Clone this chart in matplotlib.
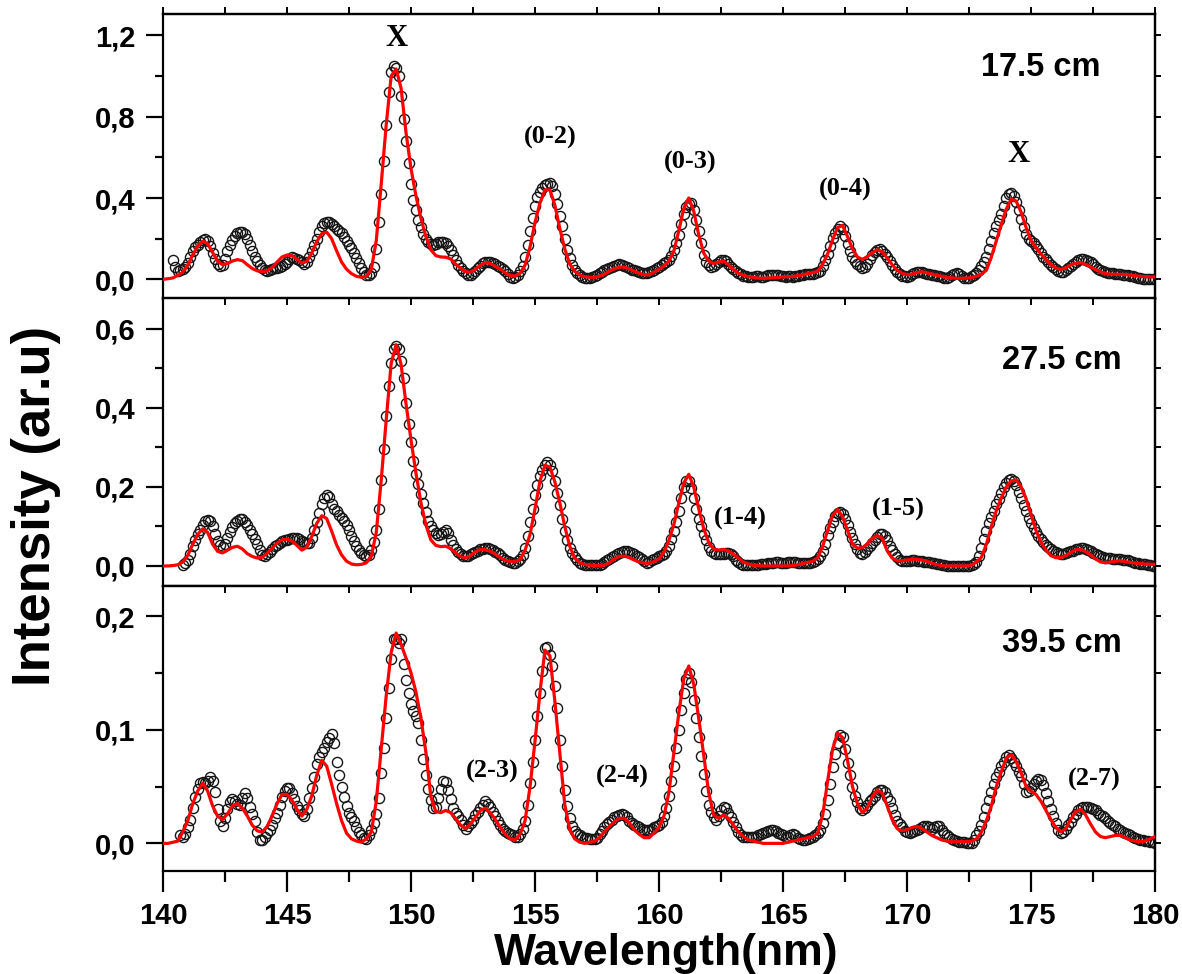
import numpy as np
import matplotlib
matplotlib.use("Agg")
import matplotlib.pyplot as plt
from matplotlib.ticker import MultipleLocator, FuncFormatter

# ---- measured spectra (open circles), 0.1 nm steps, one row per nm ----
top_data_start = 140.4
top_data = [
    0.095, 0.06, 0.04, 0.045, 0.05, 0.06,
    0.08, 0.11, 0.14, 0.16, 0.17, 0.185, 0.195, 0.2, 0.19, 0.165,
    0.13, 0.1, 0.075, 0.065, 0.07, 0.1, 0.14, 0.17, 0.195, 0.215,
    0.228, 0.235, 0.235, 0.225, 0.2, 0.17, 0.14, 0.11, 0.09, 0.07,
    0.055, 0.045, 0.04, 0.045, 0.05, 0.055, 0.055, 0.06, 0.065, 0.075,
    0.085, 0.1, 0.11, 0.105, 0.1, 0.095, 0.085, 0.075, 0.085, 0.11,
    0.14, 0.17, 0.2, 0.235, 0.26, 0.275, 0.283, 0.28, 0.27, 0.262,
    0.25, 0.24, 0.228, 0.21, 0.19, 0.17, 0.152, 0.13, 0.105, 0.08,
    0.055, 0.035, 0.022, 0.02, 0.03, 0.06, 0.15, 0.28, 0.42, 0.58,
    0.76, 0.92, 1.02, 1.05, 1.04, 1.0, 0.9, 0.79, 0.68, 0.57,
    0.47, 0.39, 0.34, 0.29, 0.255, 0.225, 0.2, 0.185, 0.175, 0.17,
    0.175, 0.183, 0.185, 0.182, 0.177, 0.165, 0.145, 0.12, 0.095, 0.07,
    0.055, 0.042, 0.03, 0.022, 0.022, 0.03, 0.042, 0.055, 0.068, 0.078,
    0.085, 0.087, 0.085, 0.08, 0.075, 0.068, 0.06, 0.052, 0.04, 0.025,
    0.012, 0.006, 0.01, 0.02, 0.04, 0.065, 0.11, 0.17, 0.24, 0.3,
    0.36, 0.405, 0.43, 0.45, 0.462, 0.468, 0.472, 0.46, 0.42, 0.37,
    0.31, 0.26, 0.2, 0.145, 0.105, 0.07, 0.045, 0.032, 0.02, 0.012,
    0.008, 0.006, 0.006, 0.01, 0.016, 0.022, 0.03, 0.038, 0.045, 0.052,
    0.058, 0.062, 0.068, 0.072, 0.075, 0.072, 0.066, 0.06, 0.054, 0.048,
    0.044, 0.04, 0.036, 0.033, 0.03, 0.03, 0.034, 0.04, 0.047, 0.054,
    0.062, 0.07, 0.078, 0.085, 0.095, 0.115, 0.145, 0.18, 0.22, 0.27,
    0.32, 0.358, 0.372, 0.374, 0.34, 0.29, 0.24, 0.18, 0.12, 0.085,
    0.07, 0.062, 0.065, 0.075, 0.085, 0.093, 0.095, 0.088, 0.075, 0.062,
    0.052, 0.042, 0.032, 0.024, 0.018, 0.014, 0.013, 0.012, 0.012, 0.014,
    0.015, 0.013, 0.013, 0.016, 0.02, 0.022, 0.021, 0.021, 0.019, 0.016,
    0.014, 0.013, 0.014, 0.016, 0.013, 0.015, 0.018, 0.02, 0.022, 0.024,
    0.025, 0.026, 0.028, 0.03, 0.035, 0.042, 0.065, 0.095, 0.125, 0.165,
    0.205, 0.23, 0.25, 0.26, 0.248, 0.215, 0.175, 0.14, 0.11, 0.088,
    0.075, 0.065, 0.058, 0.06, 0.075, 0.1, 0.122, 0.135, 0.145, 0.148,
    0.14, 0.125, 0.108, 0.09, 0.07, 0.05, 0.036, 0.025, 0.018, 0.014,
    0.013, 0.018, 0.025, 0.032, 0.036, 0.038, 0.036, 0.032, 0.028, 0.024,
    0.022, 0.02, 0.018, 0.014, 0.01, 0.008, 0.008, 0.012, 0.02, 0.027,
    0.03, 0.025, 0.015, 0.008, 0.005, 0.008, 0.015, 0.023, 0.03, 0.045,
    0.065, 0.085, 0.11, 0.15, 0.19, 0.228, 0.26, 0.29, 0.32, 0.36,
    0.4, 0.418, 0.426, 0.41, 0.38, 0.34, 0.295, 0.258, 0.225, 0.2,
    0.188, 0.178, 0.165, 0.148, 0.13, 0.112, 0.098, 0.085, 0.072, 0.06,
    0.05, 0.042, 0.037, 0.038, 0.045, 0.055, 0.065, 0.075, 0.085, 0.095,
    0.1, 0.1, 0.097, 0.092, 0.086, 0.075, 0.063, 0.052, 0.045, 0.04,
    0.036, 0.033, 0.03, 0.03, 0.028, 0.026, 0.024, 0.022, 0.021, 0.02,
    0.018, 0.015, 0.012, 0.008, 0.005, 0.004, 0.003, 0.002, 0.001, 0.0,
    0.0,
]

mid_data_start = 140.8
mid_data = [
    0.003, 0.008,
    0.015, 0.03, 0.05, 0.066, 0.08, 0.091, 0.103, 0.113, 0.117, 0.113,
    0.1, 0.08, 0.062, 0.052, 0.049, 0.055, 0.07, 0.085, 0.098, 0.108,
    0.114, 0.118, 0.118, 0.112, 0.103, 0.092, 0.08, 0.067, 0.055, 0.04,
    0.027, 0.025, 0.03, 0.036, 0.043, 0.05, 0.054, 0.058, 0.062, 0.065,
    0.066, 0.068, 0.07, 0.071, 0.07, 0.067, 0.063, 0.06, 0.057, 0.058,
    0.07, 0.09, 0.112, 0.135, 0.158, 0.172, 0.18, 0.175, 0.158, 0.145,
    0.138, 0.13, 0.122, 0.113, 0.103, 0.09, 0.075, 0.062, 0.05, 0.041,
    0.033, 0.027, 0.024, 0.028, 0.04, 0.06, 0.09, 0.145, 0.218, 0.295,
    0.38, 0.455, 0.513, 0.548, 0.558, 0.548, 0.518, 0.475, 0.412, 0.36,
    0.315, 0.265, 0.232, 0.207, 0.183, 0.16, 0.137, 0.115, 0.1, 0.09,
    0.083, 0.079, 0.08, 0.086, 0.09, 0.083, 0.066, 0.054, 0.043, 0.035,
    0.03, 0.026, 0.024, 0.026, 0.03, 0.033, 0.036, 0.039, 0.042, 0.044,
    0.045, 0.045, 0.043, 0.04, 0.036, 0.032, 0.027, 0.021, 0.016, 0.012,
    0.009, 0.007, 0.008, 0.012, 0.018, 0.028, 0.045, 0.075, 0.11, 0.145,
    0.18, 0.205, 0.228, 0.244, 0.256, 0.263, 0.256, 0.24, 0.215, 0.185,
    0.155, 0.12, 0.088, 0.065, 0.045, 0.032, 0.022, 0.014, 0.008, 0.004,
    0.003, 0.003, 0.003, 0.003, 0.003, 0.002, 0.003, 0.006, 0.01, 0.014,
    0.018, 0.022, 0.026, 0.029, 0.032, 0.035, 0.037, 0.038, 0.036, 0.032,
    0.029, 0.026, 0.022, 0.017, 0.012, 0.008, 0.01, 0.014, 0.018, 0.021,
    0.024, 0.027, 0.03, 0.038, 0.05, 0.067, 0.088, 0.112, 0.14, 0.172,
    0.2, 0.214, 0.215, 0.198, 0.172, 0.145, 0.12, 0.1, 0.082, 0.065,
    0.048, 0.038, 0.033, 0.031, 0.03, 0.03, 0.031, 0.032, 0.032, 0.03,
    0.024, 0.016, 0.009, 0.005, 0.003, 0.002, 0.002, 0.002, 0.002, 0.002,
    0.003, 0.004, 0.005, 0.006, 0.007, 0.008, 0.008, 0.009, 0.009, 0.008,
    0.008, 0.008, 0.009, 0.01, 0.01, 0.009, 0.008, 0.008, 0.008, 0.008,
    0.008, 0.008, 0.009, 0.012, 0.018, 0.026, 0.038, 0.055, 0.078, 0.095,
    0.112, 0.126, 0.135, 0.136, 0.131, 0.12, 0.104, 0.087, 0.071, 0.056,
    0.043, 0.034, 0.031, 0.035, 0.043, 0.051, 0.058, 0.066, 0.074, 0.08,
    0.082, 0.076, 0.065, 0.05, 0.04, 0.03, 0.022, 0.016, 0.013, 0.012,
    0.012, 0.013, 0.014, 0.014, 0.013, 0.013, 0.012, 0.011, 0.01, 0.009,
    0.008, 0.007, 0.006, 0.005, 0.003, 0.002, 0.001, 0.0, 0.0, 0.0,
    0.0, 0.0, 0.0, 0.0, 0.0, 0.001, 0.002, 0.004, 0.01, 0.025,
    0.045, 0.068, 0.089, 0.108, 0.125, 0.14, 0.156, 0.17, 0.185, 0.2,
    0.211, 0.217, 0.219, 0.216, 0.205, 0.188, 0.172, 0.155, 0.138, 0.122,
    0.108, 0.096, 0.085, 0.076, 0.068, 0.06, 0.054, 0.048, 0.043, 0.039,
    0.035, 0.032, 0.03, 0.031, 0.033, 0.035, 0.037, 0.039, 0.042, 0.044,
    0.046, 0.046, 0.043, 0.04, 0.037, 0.034, 0.031, 0.028, 0.025, 0.022,
    0.021, 0.02, 0.019, 0.018, 0.018, 0.017, 0.017, 0.016, 0.015, 0.014,
    0.012, 0.01, 0.008, 0.007, 0.006, 0.005, 0.004, 0.003, 0.002, 0.001,
    0.0,
]

bot_data_start = 140.7
bot_data = [
    0.007, 0.006, 0.008,
    0.014, 0.021, 0.031, 0.041, 0.048, 0.053, 0.054, 0.053, 0.055, 0.058,
    0.055, 0.045, 0.03, 0.02, 0.015, 0.022, 0.03, 0.036, 0.039, 0.037,
    0.035, 0.034, 0.04, 0.044, 0.04, 0.032, 0.026, 0.02, 0.01, 0.003,
    0.003, 0.006, 0.009, 0.012, 0.016, 0.022, 0.027, 0.034, 0.041, 0.046,
    0.049, 0.049, 0.044, 0.039, 0.033, 0.029, 0.026, 0.024, 0.03, 0.04,
    0.049, 0.058, 0.07, 0.076, 0.08, 0.084, 0.089, 0.093, 0.096, 0.088,
    0.072, 0.06, 0.05, 0.041, 0.033, 0.027, 0.023, 0.02, 0.014, 0.01,
    0.007, 0.005, 0.004, 0.007, 0.012, 0.018, 0.026, 0.04, 0.062, 0.084,
    0.11, 0.137, 0.162, 0.18, 0.18, 0.176, 0.18, 0.158, 0.144, 0.132,
    0.123, 0.116, 0.112, 0.106, 0.091, 0.074, 0.06, 0.048, 0.038, 0.031,
    0.032, 0.04, 0.048, 0.055, 0.054, 0.047, 0.039, 0.031, 0.027, 0.024,
    0.021, 0.016, 0.013, 0.015, 0.018, 0.021, 0.025, 0.028, 0.031, 0.034,
    0.037, 0.035, 0.032, 0.028, 0.024, 0.02, 0.016, 0.013, 0.011, 0.009,
    0.008, 0.007, 0.006, 0.006, 0.008, 0.013, 0.02, 0.034, 0.053, 0.072,
    0.091, 0.112, 0.132, 0.152, 0.172, 0.173, 0.166, 0.156, 0.138, 0.119,
    0.091, 0.068, 0.047, 0.033, 0.022, 0.015, 0.011, 0.008, 0.007, 0.006,
    0.005, 0.005, 0.004, 0.004, 0.004, 0.005, 0.008, 0.011, 0.014, 0.017,
    0.019, 0.021, 0.023, 0.024, 0.025, 0.026, 0.025, 0.023, 0.02, 0.018,
    0.016, 0.015, 0.014, 0.013, 0.012, 0.012, 0.012, 0.013, 0.014, 0.015,
    0.016, 0.019, 0.024, 0.031, 0.042, 0.055, 0.068, 0.084, 0.1, 0.117,
    0.132, 0.145, 0.15, 0.142, 0.126, 0.11, 0.094, 0.077, 0.061, 0.046,
    0.034, 0.028, 0.023, 0.021, 0.024, 0.029, 0.032, 0.031, 0.027, 0.023,
    0.019, 0.014, 0.01, 0.007, 0.006, 0.006, 0.006, 0.006, 0.006, 0.006,
    0.007, 0.008, 0.009, 0.01, 0.011, 0.012, 0.012, 0.011, 0.009, 0.008,
    0.007, 0.006, 0.006, 0.007, 0.008, 0.007, 0.005, 0.004, 0.003, 0.003,
    0.004, 0.005, 0.006, 0.007, 0.009, 0.012, 0.018, 0.026, 0.038, 0.052,
    0.067, 0.079, 0.088, 0.095, 0.094, 0.083, 0.071, 0.06, 0.05, 0.042,
    0.036, 0.031, 0.029, 0.031, 0.034, 0.037, 0.039, 0.042, 0.045, 0.047,
    0.047, 0.045, 0.041, 0.037, 0.031, 0.025, 0.02, 0.017, 0.014, 0.011,
    0.01, 0.009, 0.01, 0.011, 0.012, 0.013, 0.014, 0.015, 0.015, 0.014,
    0.013, 0.014, 0.015, 0.015, 0.012, 0.009, 0.007, 0.006, 0.004, 0.003,
    0.002, 0.0015, 0.001, 0.001, 0.0, 0.0, 0.0, 0.003, 0.007, 0.011,
    0.016, 0.023, 0.031, 0.038, 0.045, 0.052, 0.058, 0.063, 0.068, 0.072,
    0.076, 0.078, 0.075, 0.072, 0.068, 0.063, 0.059, 0.052, 0.045, 0.046,
    0.049, 0.052, 0.055, 0.057, 0.056, 0.051, 0.044, 0.037, 0.03, 0.024,
    0.018, 0.012, 0.009, 0.01, 0.013, 0.016, 0.019, 0.023, 0.026, 0.029,
    0.031, 0.032, 0.032, 0.032, 0.031, 0.03, 0.029, 0.027, 0.025, 0.024,
    0.022, 0.02, 0.018, 0.016, 0.015, 0.013, 0.012, 0.01, 0.009, 0.008,
    0.007, 0.006, 0.005, 0.004, 0.003, 0.003, 0.002, 0.002, 0.001, 0.001,
    0.0,
]

# ---- fitted curves (red), 0.2 nm steps from 140 nm, one row per nm ----
top_fit = [
    0.0, 0.003, 0.007, 0.02, 0.035,
    0.07, 0.12, 0.165, 0.188, 0.175,
    0.133, 0.09, 0.072, 0.078, 0.09,
    0.097, 0.092, 0.072, 0.053, 0.042,
    0.038, 0.042, 0.058, 0.085, 0.11,
    0.12, 0.116, 0.1, 0.08, 0.088,
    0.13, 0.185, 0.225, 0.232, 0.2,
    0.14, 0.085, 0.05, 0.028, 0.015,
    0.01, 0.015, 0.05, 0.19, 0.47,
    0.76, 1.0, 1.035, 0.94, 0.72,
    0.545, 0.41, 0.3, 0.21, 0.145,
    0.117, 0.11, 0.109, 0.1, 0.075,
    0.055, 0.038, 0.035, 0.05, 0.07,
    0.083, 0.078, 0.064, 0.05, 0.032,
    0.018, 0.016, 0.03, 0.07, 0.16,
    0.28, 0.375, 0.44, 0.44, 0.365,
    0.25, 0.15, 0.075, 0.04, 0.021,
    0.013, 0.01, 0.01, 0.015, 0.025,
    0.04, 0.052, 0.06, 0.06, 0.052,
    0.04, 0.03, 0.022, 0.023, 0.035,
    0.05, 0.065, 0.09, 0.14, 0.24,
    0.35, 0.4, 0.335, 0.22, 0.13,
    0.09, 0.078, 0.085, 0.09, 0.072,
    0.048, 0.03, 0.02, 0.013, 0.01,
    0.006, 0.005, 0.006, 0.008, 0.01,
    0.012, 0.013, 0.014, 0.018, 0.022,
    0.028, 0.033, 0.04, 0.075, 0.125,
    0.195, 0.255, 0.265, 0.21, 0.15,
    0.11, 0.098, 0.112, 0.13, 0.146,
    0.135, 0.105, 0.072, 0.045, 0.03,
    0.023, 0.025, 0.033, 0.037, 0.032,
    0.025, 0.02, 0.015, 0.01, 0.007,
    0.005, 0.005, 0.006, 0.008, 0.015,
    0.025, 0.045, 0.11, 0.19, 0.27,
    0.345, 0.395, 0.385, 0.33, 0.255,
    0.19, 0.155, 0.125, 0.097, 0.072,
    0.056, 0.049, 0.057, 0.071, 0.079,
    0.082, 0.073, 0.061, 0.048, 0.036,
    0.028, 0.025, 0.025, 0.025, 0.024,
    0.021, 0.018, 0.015, 0.013, 0.012,
    0.012,
]

mid_fit = [
    0.0, 0.0, 0.001, 0.003, 0.01,
    0.027, 0.055, 0.08, 0.094, 0.085,
    0.055, 0.037, 0.033, 0.04, 0.047,
    0.05, 0.043, 0.031, 0.024, 0.02,
    0.022, 0.032, 0.045, 0.058, 0.066,
    0.068, 0.063, 0.052, 0.04, 0.048,
    0.075, 0.108, 0.127, 0.12, 0.088,
    0.053, 0.028, 0.012, 0.005, 0.003,
    0.004, 0.008, 0.025, 0.085, 0.218,
    0.37, 0.513, 0.56, 0.51, 0.41,
    0.319, 0.235, 0.16, 0.104, 0.066,
    0.052, 0.049, 0.05, 0.044, 0.033,
    0.024, 0.02, 0.026, 0.036, 0.042,
    0.041, 0.037, 0.03, 0.021, 0.014,
    0.011, 0.012, 0.016, 0.04, 0.08,
    0.145, 0.215, 0.255, 0.25, 0.213,
    0.16, 0.1, 0.05, 0.02, 0.008,
    0.004, 0.002, 0.001, 0.001, 0.002,
    0.008, 0.018, 0.024, 0.025, 0.021,
    0.015, 0.01, 0.007, 0.007, 0.011,
    0.018, 0.035, 0.065, 0.105, 0.16,
    0.21, 0.232, 0.2, 0.145, 0.095,
    0.06, 0.043, 0.04, 0.042, 0.038,
    0.03, 0.02, 0.01, 0.005, 0.002,
    0.001, 0.0, 0.0, 0.0, 0.0,
    0.0, 0.0, 0.001, 0.003, 0.006,
    0.009, 0.012, 0.021, 0.05, 0.09,
    0.128, 0.143, 0.125, 0.09, 0.055,
    0.045, 0.046, 0.056, 0.07, 0.077,
    0.07, 0.038, 0.02, 0.013, 0.013,
    0.015, 0.017, 0.017, 0.015, 0.012,
    0.007, 0.003, 0.001, 0.0, 0.0,
    0.0, 0.0, 0.0, 0.002, 0.01,
    0.022, 0.055, 0.1, 0.14, 0.172,
    0.2, 0.215, 0.218, 0.2, 0.17,
    0.13, 0.09, 0.06, 0.04, 0.026,
    0.021, 0.021, 0.026, 0.034, 0.041,
    0.042, 0.036, 0.028, 0.018, 0.01,
    0.008, 0.01, 0.012, 0.013, 0.011,
    0.009, 0.007, 0.006, 0.005, 0.004,
    0.004,
]

bot_fit = [
    0.0, 0.0, 0.001, 0.002, 0.01,
    0.02, 0.035, 0.046, 0.053, 0.046,
    0.033, 0.024, 0.021, 0.026, 0.033,
    0.035, 0.031, 0.024, 0.016, 0.011,
    0.01, 0.015, 0.024, 0.035, 0.043,
    0.043, 0.038, 0.03, 0.024, 0.03,
    0.042, 0.06, 0.073, 0.068, 0.052,
    0.035, 0.02, 0.009, 0.004, 0.002,
    0.001, 0.004, 0.01, 0.037, 0.083,
    0.13, 0.168, 0.185, 0.175, 0.163,
    0.15, 0.133, 0.11, 0.08, 0.041,
    0.028, 0.027, 0.029, 0.027, 0.022,
    0.016, 0.013, 0.017, 0.023, 0.029,
    0.031, 0.027, 0.021, 0.014, 0.008,
    0.004, 0.003, 0.008, 0.02, 0.05,
    0.09, 0.133, 0.17, 0.165, 0.125,
    0.08, 0.034, 0.012, 0.004, 0.001,
    0.0, 0.001, 0.002, 0.005, 0.01,
    0.015, 0.019, 0.022, 0.022, 0.018,
    0.012, 0.008, 0.005, 0.005, 0.009,
    0.014, 0.024, 0.045, 0.08, 0.115,
    0.145, 0.156, 0.14, 0.11, 0.078,
    0.045, 0.025, 0.022, 0.025, 0.022,
    0.016, 0.01, 0.006, 0.003, 0.002,
    0.001, 0.0, 0.0, 0.0, 0.0,
    0.0, 0.001, 0.002, 0.003, 0.004,
    0.005, 0.006, 0.009, 0.025, 0.055,
    0.083, 0.097, 0.093, 0.073, 0.05,
    0.035, 0.027, 0.031, 0.041, 0.047,
    0.044, 0.033, 0.021, 0.013, 0.011,
    0.012, 0.014, 0.015, 0.013, 0.01,
    0.007, 0.005, 0.003, 0.002, 0.0015,
    0.0015, 0.0015, 0.0015, 0.002, 0.004,
    0.01, 0.02, 0.033, 0.05, 0.063,
    0.075, 0.078, 0.072, 0.062, 0.05,
    0.046, 0.043, 0.037, 0.029, 0.021,
    0.014, 0.01, 0.013, 0.021, 0.028,
    0.03, 0.025, 0.017, 0.01, 0.006,
    0.005, 0.006, 0.007, 0.007, 0.005,
    0.003, 0.002, 0.0015, 0.002, 0.004,
    0.006,
]

fit_start = 140.0
data_step = 0.1
fit_step = 0.2

panel_names = ["17.5 cm", "27.5 cm", "39.5 cm"]
band_labels = [
    [("X", 149.4, 1.187, 22), ("(0-2)", 155.6, 0.70, 19), ("(0-3)", 161.25, 0.577, 19),
     ("(0-4)", 167.5, 0.44, 19), ("X", 174.5, 0.616, 22)],
    [("(1-4)", 163.27, 0.1215, 19), ("(1-5)", 169.64, 0.144, 19)],
    [("(2-3)", 153.27, 0.0636, 19), ("(2-4)", 158.5, 0.059, 19), ("(2-7)", 177.54, 0.0566, 19)],
]
name_pos = [(175.4, 1.044), (176.25, 0.52), (176.25, 0.176)]


def grid(start, step, vals):
    x = start + step * np.arange(len(vals))
    assert abs(x[-1] - 180.0) < 1e-6, (start, len(vals))
    return x


sans = "Liberation Sans"
serif = "Liberation Serif"
comma = FuncFormatter(lambda v, p: f"{v:.1f}".replace(".", ","))

fig = plt.figure(figsize=(11.82, 9.74), dpi=100)
L, W = 0.1379, 0.8393
boxes = [(0.6935, 0.2918), (0.3987, 0.2949), (0.1054, 0.2932)]
ylims = [(-0.0944, 1.3035), (-0.0499, 0.6772), (-0.0246, 0.2266)]
majors = [0.4, 0.2, 0.1]
minors = [0.2, 0.1, 0.05]
series = [(top_data_start, top_data, top_fit),
          (mid_data_start, mid_data, mid_fit),
          (bot_data_start, bot_data, bot_fit)]

for i in range(3):
    ax = fig.add_axes([L, boxes[i][0], W, boxes[i][1]])
    d0, dv, fv = series[i]
    ax.plot(grid(d0, data_step, dv), dv, "o", mfc="none", mec="#151515",
            ms=7.3, mew=1.0, zorder=2)
    ax.plot(grid(fit_start, fit_step, fv), fv, "-", color="#ff0000", lw=2.3, zorder=3)
    ax.set_xlim(140, 180)
    ax.set_ylim(*ylims[i])
    for s in ax.spines.values():
        s.set_linewidth(1.6)

    ax.yaxis.set_major_locator(MultipleLocator(majors[i]))
    ax.yaxis.set_minor_locator(MultipleLocator(minors[i]))
    ax.yaxis.set_major_formatter(comma)
    ax.tick_params(axis="y", which="major", direction="out", length=12, width=1.6, pad=8,
                   labelsize=21)
    ax.tick_params(axis="y", which="minor", direction="out", length=6, width=1.6)
    for lab in ax.get_yticklabels():
        lab.set_fontfamily(sans)
        lab.set_fontweight("bold")

    # small ticks on the right spine
    sec = ax.secondary_yaxis("right")
    sec.yaxis.set_major_locator(MultipleLocator(minors[i]))
    sec.tick_params(length=4, width=1.4, labelright=False)
    sec.spines["right"].set_linewidth(1.6)

    ax.xaxis.set_major_locator(MultipleLocator(5))
    ax.xaxis.set_minor_locator(MultipleLocator(2.5))
    if i == 2:
        ax.tick_params(axis="x", which="major", direction="out", length=15, width=1.6, pad=7,
                       labelsize=21)
        ax.tick_params(axis="x", which="minor", direction="out", length=8, width=1.6)
        for lab in ax.get_xticklabels():
            lab.set_fontfamily(sans)
            lab.set_fontweight("bold")
    else:
        ax.tick_params(axis="x", which="both", bottom=False, labelbottom=False)

    top = ax.secondary_xaxis("top")
    top.xaxis.set_major_locator(MultipleLocator(2.5))
    top.tick_params(direction="out" if i == 0 else "in", length=5, width=1.4, labeltop=False)
    top.spines["top"].set_linewidth(1.6)

    ax.text(name_pos[i][0], name_pos[i][1], panel_names[i], ha="center", va="center",
            fontsize=23.5, fontweight="bold", family=sans)
    for txt, bx, by, fs in band_labels[i]:
        ax.text(bx, by, txt, ha="center", va="center", fontsize=fs,
                fontweight="bold", family=serif)

fig.text(50 / 1182, 1 - 506 / 974, "Intensity (ar.u)", rotation=90, rotation_mode="anchor",
         ha="center", va="baseline", fontsize=38, fontweight="bold", family=sans)
fig.text(666 / 1182, 1 - 965 / 974, "Wavelength(nm)", ha="center", va="baseline",
         fontsize=32, fontweight="bold", family=sans)

fig.savefig("out.png", dpi=100)
